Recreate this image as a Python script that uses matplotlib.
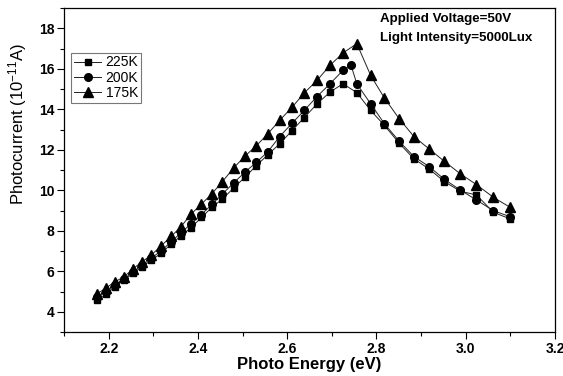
import numpy as np
import matplotlib
matplotlib.use('Agg')
import matplotlib.pyplot as plt
from matplotlib.ticker import MultipleLocator

plt.rcParams['font.family'] = ['Liberation Sans', 'DejaVu Sans']
plt.rcParams['mathtext.default'] = 'regular'

# photon energies (eV), 5 nm steps from 570 nm down to 400 nm
energy = [2.175, 2.195, 2.214, 2.234, 2.255, 2.275, 2.296, 2.318, 2.340, 2.362,
          2.385, 2.408, 2.431, 2.455, 2.480, 2.505, 2.531, 2.557, 2.583, 2.611,
          2.638, 2.667, 2.696, 2.725, 2.756, 2.787, 2.818, 2.851, 2.884, 2.918,
          2.952, 2.988, 3.024, 3.062, 3.100]

i225 = [4.57, 4.87, 5.24, 5.56, 5.89, 6.23, 6.55, 6.90, 7.34, 7.75,
        8.16, 8.66, 9.15, 9.57, 10.11, 10.64, 11.22, 11.76, 12.29, 12.95,
        13.58, 14.27, 14.85, 15.26, 14.82, 13.94, 13.20, 12.32, 11.55, 11.05,
        10.43, 9.95, 9.77, 8.91, 8.58]

# 200K run has one extra reading near the peak
energy200 = energy[:24] + [2.743] + energy[24:]
i200 = [4.75, 5.00, 5.30, 5.62, 5.97, 6.30, 6.65, 7.02, 7.45, 7.90,
        8.35, 8.80, 9.30, 9.82, 10.36, 10.89, 11.38, 11.91, 12.65, 13.31,
        13.94, 14.63, 15.26, 15.92, 16.17, 15.26, 14.27, 13.28, 12.42, 11.66,
        11.17, 10.54, 10.01, 9.52, 8.99, 8.69]

i175 = [4.90, 5.19, 5.48, 5.72, 6.13, 6.47, 6.81, 7.26, 7.72, 8.20,
        8.83, 9.32, 9.82, 10.43, 11.10, 11.68, 12.20, 12.80, 13.45, 14.10,
        14.80, 15.43, 16.17, 16.78, 17.24, 15.67, 14.55, 13.53, 12.65, 12.04,
        11.43, 10.81, 10.28, 9.65, 9.15]

fig = plt.figure(figsize=(5.63, 3.76), dpi=100)
ax = fig.add_axes([0.1137, 0.117, 0.8721, 0.8617])

ax.plot(energy, i225, '-', color='#222222', marker='s', mfc='k', mec='k', ms=5, lw=0.7, label='225K')
ax.plot(energy200, i200, '-', color='#222222', marker='o', mfc='k', mec='k', ms=5.5, lw=0.7, label='200K')
ax.plot(energy, i175, '-', color='#222222', marker='^', mfc='k', mec='k', ms=6.5, lw=0.7, label='175K')

ax.set_xlim(2.1, 3.2)
ax.set_ylim(3, 19)
ax.xaxis.set_minor_locator(MultipleLocator(0.1))
ax.yaxis.set_minor_locator(MultipleLocator(1))
ax.set_xticks([2.2, 2.4, 2.6, 2.8, 3.0, 3.2])
ax.set_xticklabels(['2.2', '2.4', '2.6', '2.8', '3.0', '3.2'])
ax.set_yticks([4, 6, 8, 10, 12, 14, 16, 18])
ax.tick_params(which='major', direction='out', length=5, width=0.8, labelsize=10, pad=2)
ax.tick_params(which='minor', direction='out', length=3, width=0.8)
for lab in ax.get_xticklabels() + ax.get_yticklabels():
    lab.set_fontweight('bold')
for sp in ax.spines.values():
    sp.set_linewidth(0.9)

ax.set_xlabel('Photo Energy (eV)', fontsize=12, fontweight='bold', labelpad=1)
ax.set_ylabel('Photocurrent (10$^{\\mathregular{-11}}$A)', fontsize=12)
ax.yaxis.set_label_coords(-0.071, 0.642)

leg = ax.legend(loc='upper left', bbox_to_anchor=(0.014, 0.862), borderaxespad=0,
                fontsize=10, frameon=True, fancybox=False, handlelength=2.0,
                handletextpad=0.3, borderpad=0.2, labelspacing=0.1)
leg.get_frame().set_edgecolor('#555555')
leg.get_frame().set_linewidth(0.8)

ax.text(0.644, 0.958, 'Applied Voltage=50V', transform=ax.transAxes,
        fontsize=9.6, fontweight='bold', va='baseline')
ax.text(0.644, 0.899, 'Light Intensity=5000Lux', transform=ax.transAxes,
        fontsize=9.6, fontweight='bold', va='baseline')

fig.savefig('out.png', dpi=100)
